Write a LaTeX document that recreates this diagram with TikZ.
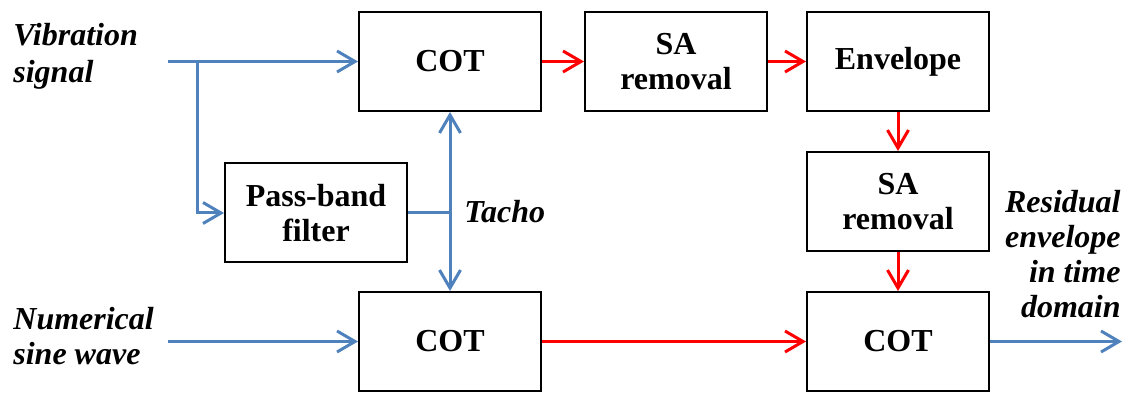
\documentclass[tikz,border=0pt]{standalone}
\usepackage{fontspec}
\setmainfont{Liberation Serif}
\usetikzlibrary{arrows.meta,positioning}
\definecolor{sblue}{RGB}{79,129,189}
\definecolor{sred}{RGB}{255,0,0}

\begin{document}
\begin{tikzpicture}[
  x=0.5pt,y=-0.5pt,
  font=\fontsize{16}{17.5}\selectfont,
  box/.style={draw=black,line width=1pt,align=center,inner sep=0pt,
              minimum width=91pt,minimum height=49.5pt,font=\fontsize{16}{17.5}\selectfont\bfseries},
  lbl/.style={font=\fontsize{16}{17.5}\selectfont\bfseries\itshape,inner sep=0pt},
  barr/.style={-{Straight Barb[length=9pt,width=10.5pt,line width=1.5pt]},line width=1.5pt,sblue},
  rarr/.style={-{Straight Barb[length=9pt,width=10.5pt,line width=1.5pt]},line width=1.5pt,sred},
  bline/.style={line width=1.5pt,sblue},
  ]
  \useasboundingbox (0,0) rectangle (1130,394);
  \node[box]                        (cot)  at (450,61.5)  {COT};
  \node[box,right=21pt of cot]      (sa)   {SA\\removal};
  \node[box,right=19pt of sa]       (env)  {Envelope};
  \node[box,below=19.5pt of env]    (sa2)  {SA\\removal};
  \node[box,below=19.5pt of sa2]    (cot3) {COT};
  \node[box]                        (pbf)  at (316,213)   {Pass-band\\filter};
  \node[box]                        (cot2) at (450,341.5) {COT};
  \node[lbl,align=left,anchor=west]  (vib)  at (13,56)    {Vibration\\[1pt]signal};
  \node[lbl,align=left,anchor=west]  (num)  at (13,336)   {Numerical\\sine wave};
  \node[lbl,anchor=west]             (tach) at (464,212)  {Tacho};
  \node[lbl,align=right,anchor=east] (res)  at (1121,254) {Residual\\envelope\\in time\\domain};
  \coordinate (vibin) at (168,61.5);
  \coordinate (split) at (197,61.5);
  \coordinate (numin) at (168,341.5);
  \coordinate (out)   at (1122,341.5);
  \coordinate (tap)   at (pbf.east -| cot.south);
  \draw[barr] (vibin) -- (cot.west);
  \draw[barr] (split) |- (pbf.west);
  \draw[bline] (pbf.east) -- (tap);
  \draw[barr] (tap) -- (cot.south);
  \draw[barr] (tap) -- (cot2.north);
  \draw[barr] (numin) -- (cot2.west);
  \draw[rarr] (cot.east) -- (sa.west);
  \draw[rarr] (sa.east) -- (env.west);
  \draw[rarr] (env.south) -- (sa2.north);
  \draw[rarr] (sa2.south) -- (cot3.north);
  \draw[rarr] (cot2.east) -- (cot3.west);
  \draw[barr] (cot3.east) -- (out);
\end{tikzpicture}
\end{document}
